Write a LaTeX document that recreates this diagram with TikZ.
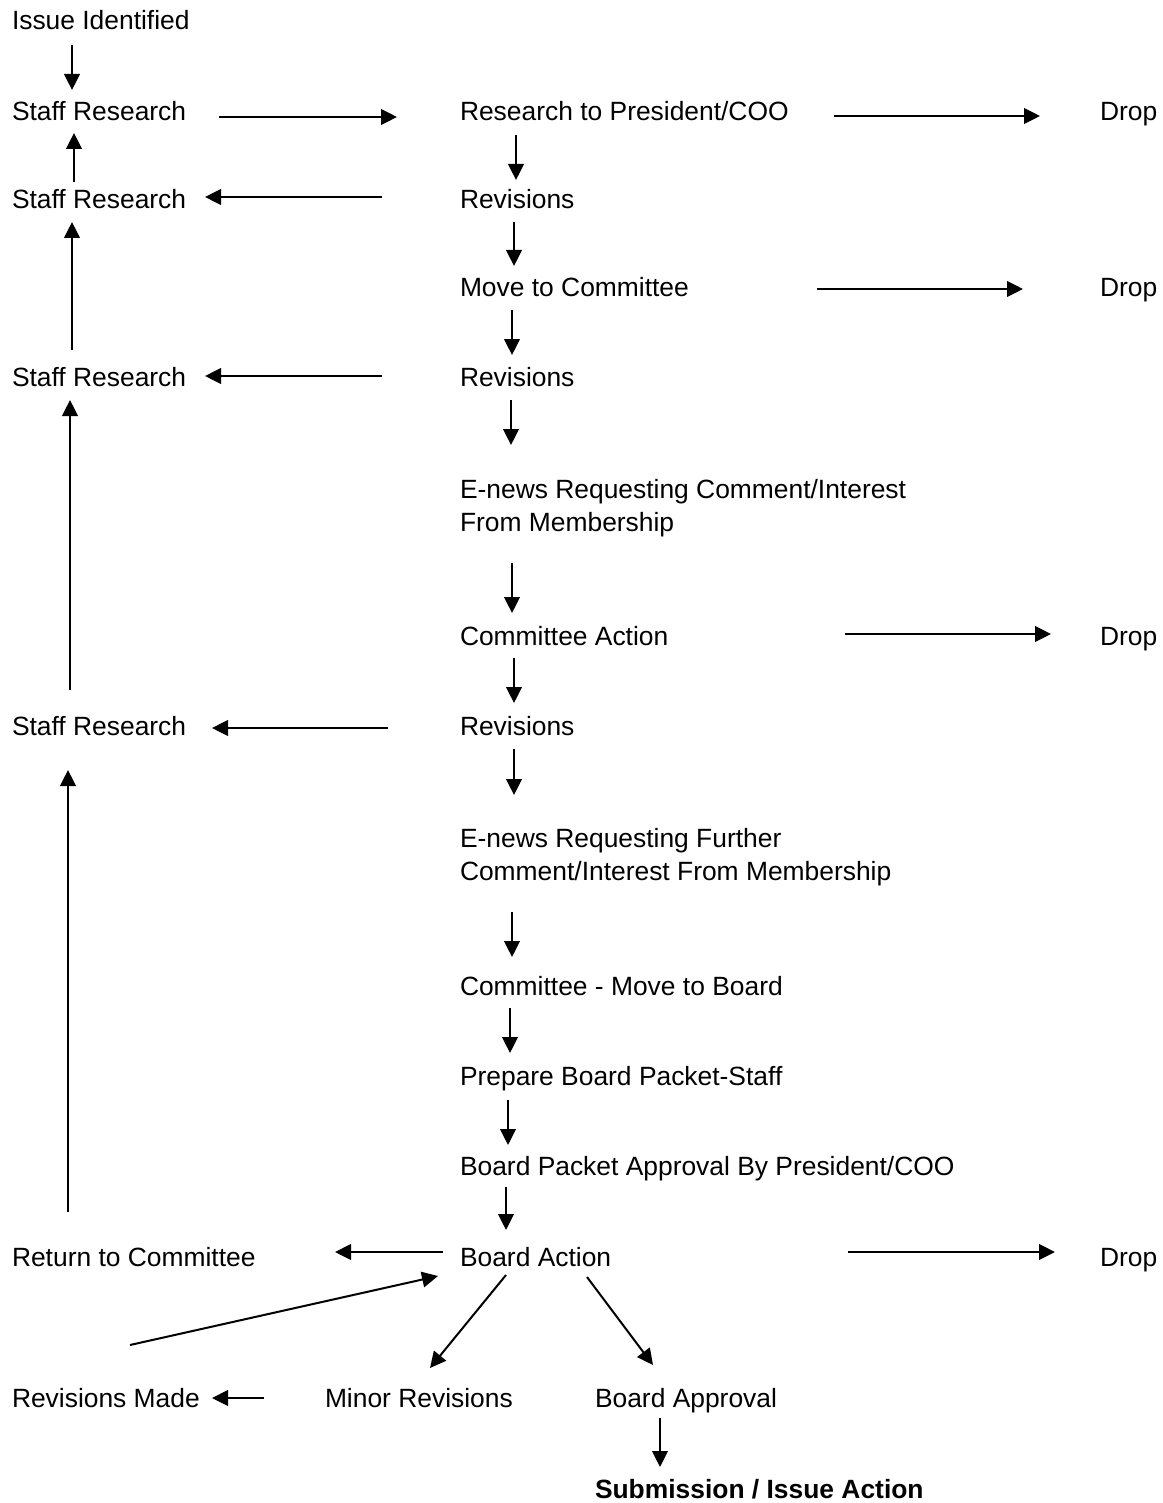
\documentclass[tikz,border=0pt]{standalone}
\usepackage{fontspec}
\setmainfont{Liberation Sans}
\usetikzlibrary{arrows.meta}
\begin{document}
\begin{tikzpicture}[x=0.5pt,y=-0.5pt,
  lbl/.style={anchor=base west,inner sep=0pt,outer sep=0pt,align=left,font=\fontsize{13.2}{16.4}\selectfont},
  arr/.style={line width=1pt,-{Triangle[length=8pt,width=7.8pt]}}]
\useasboundingbox (0,0) rectangle (1162,1503);
% nodes
\node[lbl] (issue) at (12,30) {Issue Identified};
\node[lbl] (sr1) at (12,120.5) {Staff Research};
\node[lbl] (rp) at (460,120.5) {Research to President/COO};
\node[lbl] (d1) at (1100,120.5) {Drop};
\node[lbl] (sr2) at (12,208.5) {Staff Research};
\node[lbl] (rv1) at (460,208.5) {Revisions};
\node[lbl] (mc) at (460,296.5) {Move to Committee};
\node[lbl] (d2) at (1100,296.5) {Drop};
\node[lbl] (sr3) at (12,386.5) {Staff Research};
\node[lbl] (rv2) at (460,386.5) {Revisions};
\node[lbl] (en1) at (460,531.5) {E-news Requesting Comment/Interest\\From Membership};
\node[lbl] (ca) at (460,645.5) {Committee Action};
\node[lbl] (d3) at (1100,645.5) {Drop};
\node[lbl] (sr4) at (12,735.5) {Staff Research};
\node[lbl] (rv3) at (460,735.5) {Revisions};
\node[lbl] (en2) at (460,880.5) {E-news Requesting Further\\Comment/Interest From Membership};
\node[lbl] (cmb) at (460,995.5) {Committee - Move to Board};
\node[lbl] (pbp) at (460,1085.5) {Prepare Board Packet-Staff};
\node[lbl] (bpa) at (460,1175.5) {Board Packet Approval By President/COO};
\node[lbl] (rtc) at (12,1266.5) {Return to Committee};
\node[lbl] (ba) at (460,1266.5) {Board Action};
\node[lbl] (d4) at (1100,1266.5) {Drop};
\node[lbl] (rm) at (12,1407.5) {Revisions Made};
\node[lbl] (mr) at (325,1407.5) {Minor Revisions};
\node[lbl] (bap) at (595,1407.5) {Board Approval};
\node[lbl,font=\fontsize{13.2}{16.4}\selectfont\bfseries] (sub) at (595,1498.5) {Submission / Issue Action};
% connector end points
\coordinate (issueS) at (72,45);   \coordinate (sr1N) at (72,90);
\coordinate (sr1E) at (219,117);   \coordinate (rpW) at (397,117);
\coordinate (sr2N) at (74,182);    \coordinate (sr1S) at (74,133);
\coordinate (rv1W) at (382,197);   \coordinate (sr2E) at (205,197);
\coordinate (rpS) at (516,135);    \coordinate (rv1N) at (516,180);
\coordinate (rpE) at (834,116);    \coordinate (d1W) at (1040,116);
\coordinate (rv1S) at (514,222);   \coordinate (mcN) at (514,266);
\coordinate (mcE) at (817,289);    \coordinate (d2W) at (1023,289);
\coordinate (mcS) at (512,310);    \coordinate (rv2N) at (512,355);
\coordinate (sr3N) at (72,350);    \coordinate (sr2S) at (72,222);
\coordinate (rv2W) at (382,376);   \coordinate (sr3E) at (205,376);
\coordinate (rv2S) at (511,400);   \coordinate (en1N) at (511,445);
\coordinate (en1S) at (512,563);   \coordinate (caN) at (512,613);
\coordinate (caE) at (845,634);    \coordinate (d3W) at (1051,634);
\coordinate (caS) at (514,658);    \coordinate (rv3N) at (514,703);
\coordinate (sr4N) at (70,690);    \coordinate (sr3S) at (70,400);
\coordinate (rv3W) at (388,728);   \coordinate (sr4E) at (212,728);
\coordinate (rv3S) at (514,749);   \coordinate (en2N) at (514,795);
\coordinate (en2S) at (512,912);   \coordinate (cmbN) at (512,957);
\coordinate (cmbS) at (510,1008);  \coordinate (pbpN) at (510,1053);
\coordinate (pbpS) at (508,1100);  \coordinate (bpaN) at (508,1145);
\coordinate (bpaS) at (506,1187);  \coordinate (baN) at (506,1230);
\coordinate (baW) at (443,1252);   \coordinate (rtcE) at (335,1252);
\coordinate (baE) at (848,1252);   \coordinate (d4W) at (1055,1252);
\coordinate (baSW) at (506,1275);  \coordinate (mrN) at (430,1368);
\coordinate (baSE) at (587,1277);  \coordinate (bapN) at (653,1365);
\coordinate (rmN) at (130,1345);   \coordinate (baWS) at (438,1276);
\coordinate (mrW) at (264,1398);   \coordinate (rmE) at (212,1398);
\coordinate (bapS) at (660,1418);  \coordinate (subN) at (660,1467);
\coordinate (rtcN) at (68,1212);   \coordinate (sr4S) at (68,770);
% connectors
\draw[arr] (issueS) -- (sr1N);
\draw[arr] (sr1E) -- (rpW);
\draw[arr] (sr2N) -- (sr1S);
\draw[arr] (rv1W) -- (sr2E);
\draw[arr] (rpS) -- (rv1N);
\draw[arr] (rpE) -- (d1W);
\draw[arr] (rv1S) -- (mcN);
\draw[arr] (mcE) -- (d2W);
\draw[arr] (mcS) -- (rv2N);
\draw[arr] (sr3N) -- (sr2S);
\draw[arr] (rv2W) -- (sr3E);
\draw[arr] (rv2S) -- (en1N);
\draw[arr] (en1S) -- (caN);
\draw[arr] (caE) -- (d3W);
\draw[arr] (caS) -- (rv3N);
\draw[arr] (sr4N) -- (sr3S);
\draw[arr] (rv3W) -- (sr4E);
\draw[arr] (rv3S) -- (en2N);
\draw[arr] (en2S) -- (cmbN);
\draw[arr] (cmbS) -- (pbpN);
\draw[arr] (pbpS) -- (bpaN);
\draw[arr] (bpaS) -- (baN);
\draw[arr] (baW) -- (rtcE);
\draw[arr] (baE) -- (d4W);
\draw[arr] (baSW) -- (mrN);
\draw[arr] (baSE) -- (bapN);
\draw[arr] (rmN) -- (baWS);
\draw[arr] (mrW) -- (rmE);
\draw[arr] (bapS) -- (subN);
\draw[arr] (rtcN) -- (sr4S);
\end{tikzpicture}
\end{document}
